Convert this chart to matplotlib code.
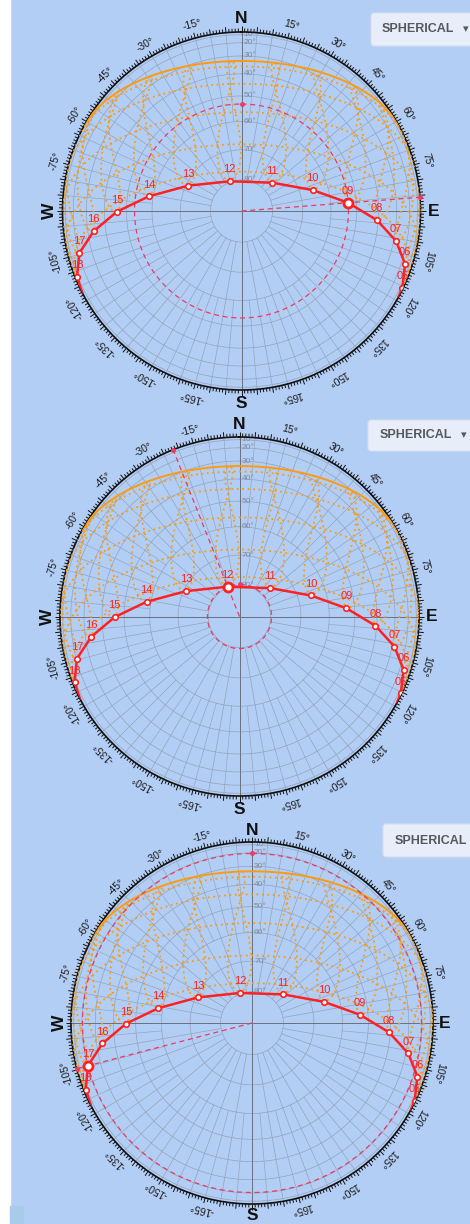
import numpy as np
import matplotlib.pyplot as plt
from matplotlib.patches import Rectangle, FancyBboxPatch
from matplotlib.collections import LineCollection

plt.rcParams['font.family'] = ['Liberation Sans', 'DejaVu Sans']

W, H = 470, 1224

# sun path of the shown day
# azimuth: degrees clockwise from north, altitude: degrees above horizon
hours = ["05", "06", "07", "08", "09", "10", "11", "12", "13", "14", "15", "16", "17", "18"]
hour_az = [115.5, 108.0, 101.0, 93.9, 85.6, 73.6, 47.4, -21.7, -64.7, -81.0, -90.3, -97.8, -104.6, -111.8]
hour_alt = [5.5, 16.0, 28.4, 40.6, 53.3, 65.5, 76.5, 79.7, 70.7, 58.4, 45.9, 33.5, 20.5, 8.3]
sunrise_az = 118.6
sunset_az = -117.2

# selected time in each of the three panels
current = ["09", "12", "17"]

# site values used for the orange sky grid
latitude = -33.5
solstice_dec = 23.44
date_decs = [20.4, 11.8, 0.0, -11.6, -20.8]
clock_offset_min = 15.5
grid_hours = list(range(4, 21))

alt_rings = [10, 20, 30, 40, 50, 60, 70, 80]
az_labels = [-165, -150, -135, -120, -105, -75, -60, -45, -30, -15,
             15, 30, 45, 60, 75, 105, 120, 135, 150, 165]
compass = [("N", 0, 0), ("E", 90, 0), ("S", 180, 0), ("W", -90, 90)]

# panel layout in pixels: centre x, centre y, radius
panels = [(241.5, 211, 179), (239.5, 616.5, 179.5), (252, 1023, 181)]
buttons = [(371, 13, 33, 382, True), (368, 420, 31, 380, True), (383, 824, 33, 395, False)]

BG = '#b3cef5'
GRID = '#93a3ba'
ORANGE = '#ff9a0a'
RED = '#ff2020'
DASH = '#ec3a62'


def fwd(z):
    z = np.clip(np.asarray(z, dtype=float), 0, 90)
    return np.sin(np.radians(z))


def inv(s):
    s = np.clip(np.asarray(s, dtype=float), 0, 1)
    return np.degrees(np.arcsin(s))


def sky_pos(dec, ha):
    phi, d, h = np.radians(latitude), np.radians(dec), np.radians(ha)
    up = np.sin(phi) * np.sin(d) + np.cos(phi) * np.cos(d) * np.cos(h)
    east = -np.cos(d) * np.sin(h)
    north = np.cos(phi) * np.sin(d) - np.sin(phi) * np.cos(d) * np.cos(h)
    alt = np.degrees(np.arcsin(np.clip(up, -1, 1)))
    az = np.degrees(np.arctan2(east, north))
    alt = np.where(alt < 0, np.nan, alt)
    return np.radians(az), 90 - alt


fig = plt.figure(figsize=(W / 100, H / 100), dpi=100, facecolor=BG)

# background overlay in pixel coordinates
bg = fig.add_axes([0, 0, 1, 1], zorder=0)
bg.set_xlim(0, W)
bg.set_ylim(H, 0)
bg.axis('off')
bg.add_patch(Rectangle((0, 0), 10, H, color='white'))
bg.add_patch(Rectangle((10, 1206), 13, 18, color='#a8cbe9'))

full = np.linspace(0, 2 * np.pi, 721)

for (cx, cy, r), cur, (bx, by, bh, tx, arrow) in zip(panels, current, buttons):
    ax = fig.add_axes([(cx - r) / W, 1 - (cy + r) / H, 2 * r / W, 2 * r / H],
                      projection='polar', zorder=2)
    ax.set_theta_zero_location('N')
    ax.set_theta_direction(-1)
    ax.set_rscale('function', functions=(fwd, inv))
    ax.set_rlim(0, 90)
    ax.patch.set_alpha(0)
    ax.grid(False)
    ax.set_yticks([])
    ax.set_xticks([])
    ax.spines['polar'].set_color('#111111')
    ax.spines['polar'].set_linewidth(1.2)

    # compass tick ring (1 degree, longer every 5)
    segs = []
    for deg in range(360):
        a = np.radians(deg)
        ln = 5.5 if deg % 5 == 0 else 3.5
        r1 = 0.5 * (1 + ln / r)
        segs.append([(0.5 + 0.5 * np.sin(a), 0.5 + 0.5 * np.cos(a)),
                     (0.5 + r1 * np.sin(a), 0.5 + r1 * np.cos(a))])
    ax.add_collection(LineCollection(segs, colors='#111111', linewidths=0.7,
                                     transform=ax.transAxes, clip_on=False))

    # altitude rings and azimuth lines
    for a in alt_rings:
        ax.plot(full, np.full_like(full, 90 - a), color=GRID, lw=0.5, zorder=1)
    for az in range(0, 360, 10):
        ax.plot([np.radians(az)] * 2, [90, 10], color=GRID, lw=0.5, zorder=1)
    for az in range(5, 360, 10):
        ax.plot([np.radians(az)] * 2, [90, 30], color=GRID, lw=0.45, zorder=1)
    ax.plot([0, 0, np.pi, np.pi], [90, 0, 0, 90], color='#69727f', lw=0.7, zorder=1)
    ax.plot([np.pi / 2, np.pi / 2, -np.pi / 2, -np.pi / 2], [90, 0, 0, 90],
            color='#69727f', lw=0.7, zorder=1)
    for a in alt_rings:
        ax.annotate(f"{a}°", xy=(0, 90 - a), xytext=(1.5, 0), textcoords='offset points',
                    ha='left', va='center', fontsize=6, color='#858b95', zorder=2)

    # orange sky grid: winter solstice path, monthly paths and hour analemmas
    ha = np.linspace(-180, 180, 1441)
    th, rr = sky_pos(solstice_dec, ha)
    ax.plot(th, rr, color=ORANGE, lw=1.4, zorder=3)
    for d in date_decs:
        th, rr = sky_pos(d, ha)
        ax.plot(th, rr, color=ORANGE, lw=1.3, ls=(0, (1, 2)), zorder=3)
    days = np.arange(0, 366)
    B = 2 * np.pi * (days - 81) / 364
    eot = 9.87 * np.sin(2 * B) - 7.53 * np.cos(B) - 1.5 * np.sin(B)
    decl = solstice_dec * np.sin(2 * np.pi * (284 + days) / 365)
    for h in grid_hours:
        th, rr = sky_pos(decl, 15 * (h - 12) + (clock_offset_min + eot) / 4)
        ax.plot(th, rr, color=ORANGE, lw=1.3, ls=(0, (1, 2)), zorder=3)

    # current position indicators
    i = hours.index(cur)
    tc, zc = np.radians(hour_az[i]), 90 - hour_alt[i]
    ax.plot(full, np.full_like(full, zc), color=DASH, lw=0.9, ls=(0, (4, 3)), zorder=4)
    ax.plot([tc, tc], [0, 90], color=DASH, lw=0.9, ls=(0, (4, 3)), zorder=4)
    ax.plot([0], [zc], 'o', color=DASH, ms=2.5, zorder=4)
    ax.plot([tc], [90], 'o', color=DASH, ms=2.5, zorder=4, clip_on=False)

    # sun path
    path_th = np.radians([sunrise_az] + hour_az + [sunset_az])
    path_r = 90 - np.array([0] + hour_alt + [0])
    ax.plot(path_th, path_r, color=RED, lw=1.8, zorder=5, solid_capstyle='round')
    ax.plot(np.radians(hour_az), 90 - np.array(hour_alt), 'o', mfc='white', mec=RED,
            ms=4, mew=1.2, zorder=6)
    ax.plot([tc], [zc], 'o', mfc='white', mec=RED, ms=6.5, mew=2, zorder=7)
    for lab, az, al in zip(hours, hour_az, hour_alt):
        ax.annotate(lab, xy=(np.radians(az), 90 - al), xytext=(0, 8.5),
                    textcoords='offset points', ha='center', va='center',
                    fontsize=8, color=RED, zorder=8)

    # outer labels
    k = 192.5 / r
    for az in az_labels:
        a = np.radians(az)
        ax.text(0.5 + 0.5 * k * np.sin(a), 0.5 + 0.5 * k * np.cos(a), f"{az}°",
                transform=ax.transAxes, rotation=-az, rotation_mode='anchor',
                ha='center', va='center', fontsize=7.5, color='#1b1b1b', clip_on=False)
    for lab, az, rot in compass:
        a = np.radians(az)
        ax.text(0.5 + 0.5 * k * np.sin(a), 0.5 + 0.5 * k * np.cos(a), lab,
                transform=ax.transAxes, rotation=rot, ha='center', va='center',
                fontsize=12.5, fontweight='bold', color='#111111', clip_on=False)

    # projection button
    over = fig.add_axes([0, 0, 1, 1], zorder=3)
    over.set_xlim(0, W)
    over.set_ylim(H, 0)
    over.axis('off')
    over.add_patch(FancyBboxPatch((bx, by), 120, bh, boxstyle='round,pad=0,rounding_size=3',
                                  fc='#e8eef9', ec='#d3ddee', lw=0.8))
    over.text(tx, by + bh / 2, "SPHERICAL", ha='left', va='center', fontsize=9,
              fontweight='bold', color='#55595f')
    if arrow:
        over.text(tx + 81, by + bh / 2, "▾", ha='left', va='center', fontsize=8,
                  color='#55595f', family='DejaVu Sans')

fig.savefig("out.png", dpi=100, facecolor=BG)
